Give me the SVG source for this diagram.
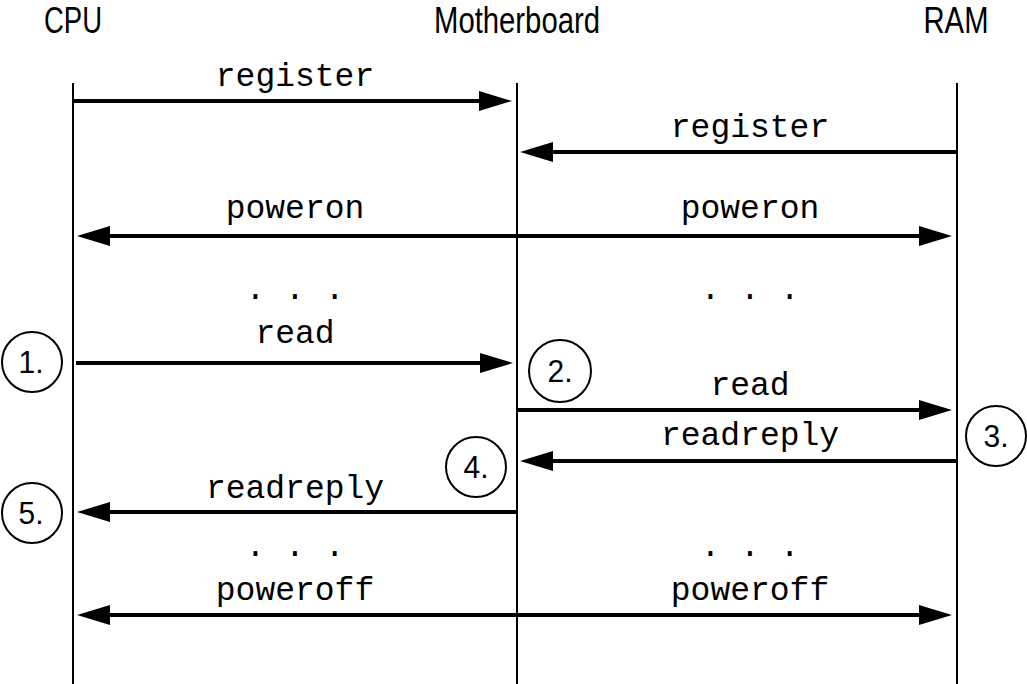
<svg xmlns="http://www.w3.org/2000/svg" width="1027" height="684" viewBox="0 0 1027 684">
<style>
.hdr{font-family:"Liberation Sans",Arial,sans-serif;font-size:36px;fill:#000;text-anchor:middle}
.lbl{font-family:"Liberation Mono","Courier New",monospace;font-size:33px;fill:#000;text-anchor:middle}
.life{stroke:#000;stroke-width:2;fill:none}
.msg{stroke:#000;stroke-width:4;fill:none}
.step circle{fill:#fff;stroke:#000;stroke-width:2}
.step text{font-family:"Liberation Sans",Arial,sans-serif;font-size:32px;fill:#000;text-anchor:middle}
</style>
<defs>
<marker id="ah" viewBox="0 0 33 20" refX="3" refY="10" markerWidth="33" markerHeight="20" markerUnits="userSpaceOnUse" orient="auto-start-reverse">
<path d="M0,0 L33,10 L0,20 Z" fill="#000"/>
</marker>
</defs>
<rect width="1027" height="684" fill="#fff"/>
<g id="cpu">
<text class="hdr" x="73" y="33" textLength="58" lengthAdjust="spacingAndGlyphs">CPU</text>
<line class="life" x1="73" y1="83" x2="73" y2="684"/>
</g>
<g id="motherboard">
<text class="hdr" x="517" y="33" textLength="166" lengthAdjust="spacingAndGlyphs">Motherboard</text>
<line class="life" x1="517" y1="83" x2="517" y2="684"/>
</g>
<g id="ram">
<text class="hdr" x="956" y="33" textLength="65" lengthAdjust="spacingAndGlyphs">RAM</text>
<line class="life" x1="957" y1="83" x2="957" y2="684"/>
</g>
<g id="connectors">
<line class="msg" x1="73" y1="101" x2="482" y2="101" marker-end="url(#ah)"/>
<line class="msg" x1="956" y1="152" x2="550" y2="152" marker-end="url(#ah)"/>
<line class="msg" x1="107" y1="236" x2="922" y2="236" marker-start="url(#ah)" marker-end="url(#ah)"/>
<line class="msg" x1="76" y1="363" x2="483" y2="363" marker-end="url(#ah)"/>
<line class="msg" x1="517" y1="410" x2="922" y2="410" marker-end="url(#ah)"/>
<line class="msg" x1="956" y1="461" x2="550" y2="461" marker-end="url(#ah)"/>
<line class="msg" x1="516" y1="512" x2="107" y2="512" marker-end="url(#ah)"/>
<line class="msg" x1="107" y1="615" x2="922" y2="615" marker-start="url(#ah)" marker-end="url(#ah)"/>
<text class="lbl" x="295" y="86">register</text>
<text class="lbl" x="750" y="137">register</text>
<text class="lbl" x="295" y="218">poweron</text>
<text class="lbl" x="750" y="218">poweron</text>
<text class="lbl" x="295" y="299">. . .</text>
<text class="lbl" x="750" y="299">. . .</text>
<text class="lbl" x="295" y="343">read</text>
<text class="lbl" x="750" y="395">read</text>
<text class="lbl" x="750" y="445">readreply</text>
<text class="lbl" x="295" y="498">readreply</text>
<text class="lbl" x="295" y="556">. . .</text>
<text class="lbl" x="750" y="556">. . .</text>
<text class="lbl" x="295" y="600">poweroff</text>
<text class="lbl" x="750" y="600">poweroff</text>
</g>
<g id="step1" class="step"><circle cx="32" cy="362" r="30"/><text x="31" y="373" textLength="25" lengthAdjust="spacingAndGlyphs">1.</text></g>
<g id="step2" class="step"><circle cx="560" cy="371" r="31"/><text x="560" y="382" textLength="25" lengthAdjust="spacingAndGlyphs">2.</text></g>
<g id="step3" class="step"><circle cx="996" cy="436" r="30"/><text x="996" y="447" textLength="25" lengthAdjust="spacingAndGlyphs">3.</text></g>
<g id="step4" class="step"><circle cx="476" cy="467" r="30"/><text x="476" y="478" textLength="25" lengthAdjust="spacingAndGlyphs">4.</text></g>
<g id="step5" class="step"><circle cx="32" cy="513" r="30"/><text x="31" y="524" textLength="25" lengthAdjust="spacingAndGlyphs">5.</text></g>
</svg>
